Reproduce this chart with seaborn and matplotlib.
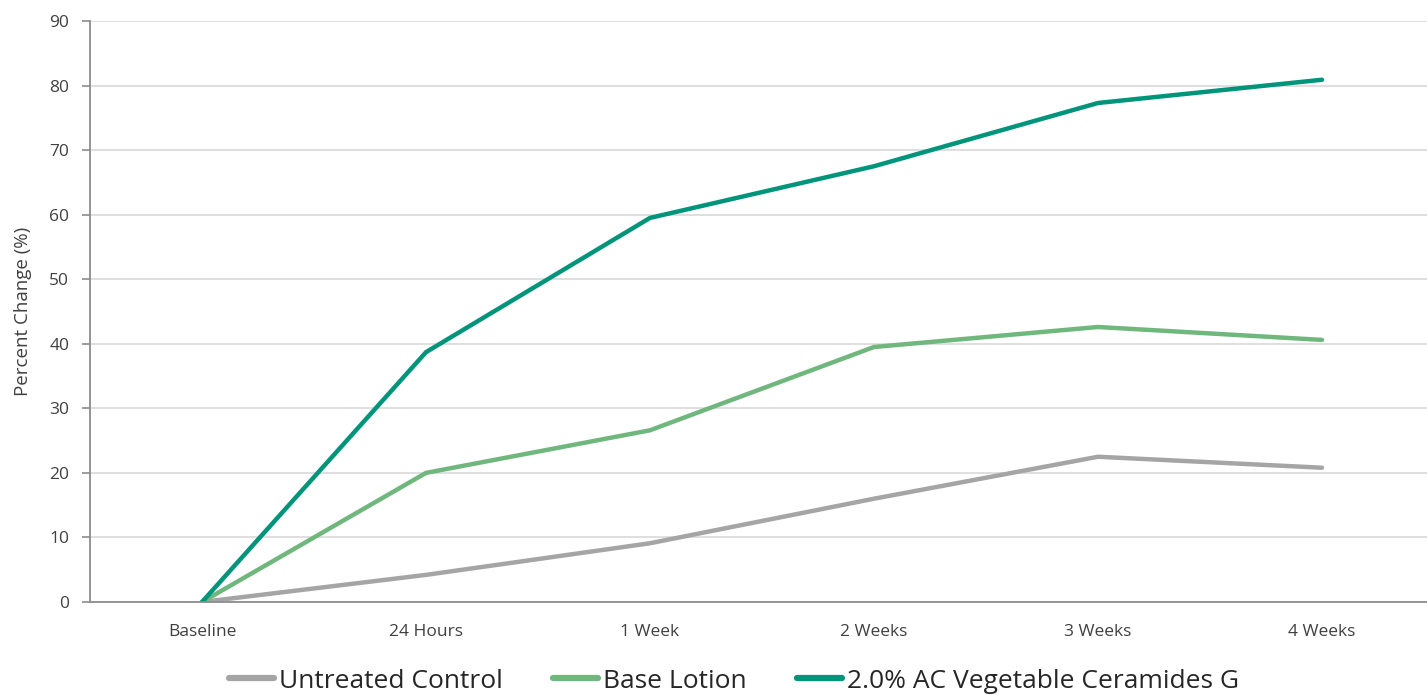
import numpy as np
import pandas as pd
import seaborn as sns
import matplotlib.pyplot as plt

# values
timepoints = ["Baseline", "24 Hours", "1 Week", "2 Weeks", "3 Weeks", "4 Weeks"]
untreated = [0, 4.2, 9.1, 16.0, 22.5, 20.8]
base_lotion = [0, 20.0, 26.6, 39.5, 42.6, 40.6]
ceramides = [0, 38.7, 59.5, 67.5, 77.3, 80.9]
series_names = ["Untreated Control", "Base Lotion", "2.0% AC Vegetable Ceramides G"]
colors = ["#A5A5A5", "#70B77E", "#00957A"]
y_ticks = list(range(0, 100, 10))

df = pd.DataFrame({
    "time": timepoints * 3,
    "x": list(range(len(timepoints))) * 3,
    "value": untreated + base_lotion + ceramides,
    "series": [s for s in series_names for _ in timepoints],
})

sns.set_style("white")
plt.rcParams["font.family"] = ["Open Sans", "DejaVu Sans"]

fig = plt.figure(figsize=(14.27, 6.95), dpi=100)
ax = fig.add_axes([90 / 1427, 1 - 602 / 695, 1344 / 1427, 581 / 695])

sns.lineplot(data=df, x="x", y="value", hue="series", hue_order=series_names,
             palette=colors, linewidth=3.2, ax=ax, legend=False, sort=False)

ax.set_xlim(-0.5, 5.5)
ax.set_ylim(0, 90)
ax.set_yticks(y_ticks)
ax.set_xticks(range(len(timepoints)))
ax.set_xticklabels(timepoints)
ax.tick_params(axis="x", length=0, pad=16, labelsize=12.5, colors="#404040")
ax.tick_params(axis="y", length=6, width=1.2, color="#8C8C8C", pad=9, labelsize=12.5,
               colors="#404040", left=True)
ax.yaxis.grid(True, color="#D9D9D9", linewidth=1.2)
ax.set_axisbelow(True)
for side in ["top", "right"]:
    ax.spines[side].set_visible(False)
for side in ["left", "bottom"]:
    ax.spines[side].set_color("#8C8C8C")
    ax.spines[side].set_linewidth(1.3)
ax.set_xlabel("")
ax.set_ylabel("Percent Change (%)", fontsize=13.5, color="#404040", labelpad=12)

handles = [plt.Line2D([], [], color=c, linewidth=4.5) for c in colors]
leg = fig.legend(handles, series_names, loc="center", bbox_to_anchor=(734 / 1427, 1 - 681 / 695),
                 ncol=3, frameon=False, handlelength=1.7, handletextpad=0.2, columnspacing=1.9,
                 prop={"family": ["Open Sans", "DejaVu Sans"], "size": 19})
for t in leg.get_texts():
    t.set_color("#262626")

fig.savefig("out.png", dpi=100)
